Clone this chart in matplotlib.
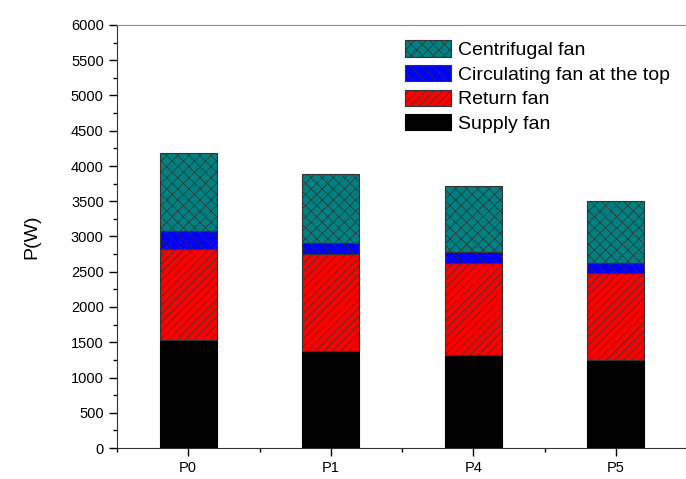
import matplotlib.pyplot as plt
import numpy as np
from matplotlib.ticker import MultipleLocator

plt.rcParams['font.family'] = ['Liberation Sans', 'DejaVu Sans']
plt.rcParams['hatch.linewidth'] = 0.5

cases = ['P0', 'P1', 'P4', 'P5']
supply_fan = [1532, 1376, 1319, 1253]
return_fan = [1291, 1372, 1301, 1229]
circ_fan = [255, 164, 156, 146]
centrifugal_fan = [1106, 975, 936, 880]

x = np.arange(len(cases))
w = 0.4

fig = plt.figure(figsize=(6.86, 4.79), dpi=100)
ax = fig.add_axes([117 / 686, 31 / 479, 570 / 686, 423 / 479])

b1 = np.array(supply_fan)
b2 = b1 + np.array(return_fan)
b3 = b2 + np.array(circ_fan)

ax.bar(x, supply_fan, w, color='black', edgecolor='black', lw=0.8, label='Supply fan')
ax.bar(x, return_fan, w, bottom=b1, color='#ff0000', edgecolor='#333333', lw=0.8,
       hatch='////', label='Return fan')
ax.bar(x, circ_fan, w, bottom=b2, color='#0000ff', edgecolor='#333333', lw=0.8,
       hatch='\\\\\\', label='Circulating fan at the top')
ax.bar(x, centrifugal_fan, w, bottom=b3, color='#008080', edgecolor='#333333', lw=0.8,
       hatch='xxx', label='Centrifugal fan')

ax.set_xlim(-0.5, 3.5)
ax.set_ylim(0, 6000)
ax.set_xticks(x)
ax.set_xticklabels(cases)
ax.xaxis.set_minor_locator(plt.FixedLocator(np.arange(-0.5, 4, 1)))
ax.yaxis.set_major_locator(MultipleLocator(500))
ax.yaxis.set_minor_locator(MultipleLocator(250))
ax.tick_params(axis='both', which='major', direction='out', length=6, width=1,
               labelsize=10.5, colors='black')
ax.tick_params(axis='both', which='minor', direction='out', length=3, width=1)
ax.set_ylabel('P(W)', fontsize=14, labelpad=22)

ax.spines['right'].set_visible(False)
ax.spines['top'].set_color('#888888')
ax.spines['left'].set_color('#333333')
ax.spines['bottom'].set_color('#333333')

h, l = ax.get_legend_handles_labels()
ax.legend(h[::-1], l[::-1], loc='upper left', bbox_to_anchor=((397 - 117) / 570, 0.982),
          frameon=False, fontsize=14, handlelength=2.4, handleheight=0.9,
          labelspacing=0.3, handletextpad=0.35, borderaxespad=0)

fig.savefig('out.png', dpi=100)
